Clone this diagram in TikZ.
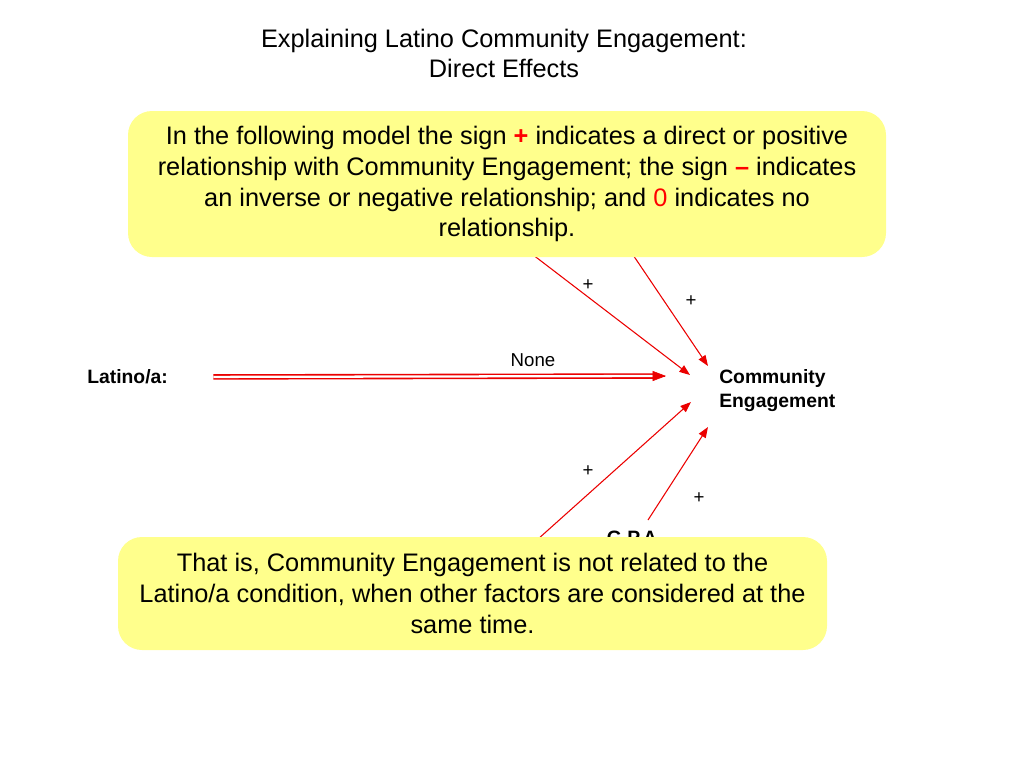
\documentclass[tikz,border=0pt]{standalone}
\usepackage{fontspec}
\setmainfont{Liberation Sans}
\usetikzlibrary{arrows.meta}
\definecolor{notebox}{RGB}{255,255,140}
\definecolor{linkred}{RGB}{235,0,0}
\tikzset{
  link/.style={draw=linkred, line width=0.8pt, -{Triangle[length=8pt,width=6pt]}},
  note/.style={fill=notebox, rounded corners=18pt, align=center, font=\fontsize{19}{23.2}\selectfont},
  var/.style={font=\bfseries\fontsize{14.5}{18}\selectfont, inner sep=0pt, align=left},
  sgn/.style={font=\fontsize{14}{16}\selectfont, inner sep=0pt},
}
\begin{document}
\begin{tikzpicture}[x=0.75pt,y=-0.75pt]
\useasboundingbox (0,0) rectangle (1024,768);
\node[align=center, font=\fontsize{19}{22.5}\selectfont] (title) at (504,53){Explaining Latino Community Engagement:\\Direct Effects};
\node[var, anchor=west] (latino) at (87,377){Latino/a:};
\node[var, anchor=west] (ce) at (719,391){Community\\Engagement};
\node[var] (gpa) at (632,538){G.P.A};
\coordinate (src1) at (460,199);
\coordinate (src2) at (600,206);
\coordinate (src3) at (480,591);
\coordinate (src4) at (648,520);
\coordinate (ce-in0) at (666,376);
\coordinate (ce-in1) at (690,375);
\coordinate (ce-in2) at (708,366);
\coordinate (ce-in3) at (691,402);
\coordinate (ce-in4) at (708,427);
\draw[linkred, line width=1.2pt, double=white, double distance=1.7pt, shorten <=34pt, shorten >=9.5pt](latino.east) -- (ce-in0);
\draw[linkred, -{Triangle[length=10pt,width=7.5pt]}]([xshift=-1pt]ce-in0) -- (ce-in0);
\node[sgn] (none) at (533,360){None};
\draw[link](src1) -- (ce-in1);
\draw[link](src2) -- (ce-in2);
\draw[link](src3) -- (ce-in3);
\draw[link](src4) -- (ce-in4);
\node[sgn] (s1) at (588,285){+};
\node[sgn] (s2) at (691,301){+};
\node[sgn] (s3) at (588,471){+};
\node[sgn] (s4) at (699,498){+};
\node[note, minimum width=568.5pt, minimum height=109.5pt] (intro) at (507,184){In the following model the sign \textcolor{red}{\textbf{+}} indicates a direct or positive\\relationship with Community Engagement; the sign \textcolor{red}{\textbf{--}} indicates\\an inverse or negative relationship; and \textcolor{red}{0} indicates no\\relationship.};
\node[note, minimum width=531.75pt, minimum height=84.75pt] (summary) at (472.5,593.5){That is, Community Engagement is not related to the\\Latino/a condition, when other factors are considered at the\\same time.};
\end{tikzpicture}
\end{document}
